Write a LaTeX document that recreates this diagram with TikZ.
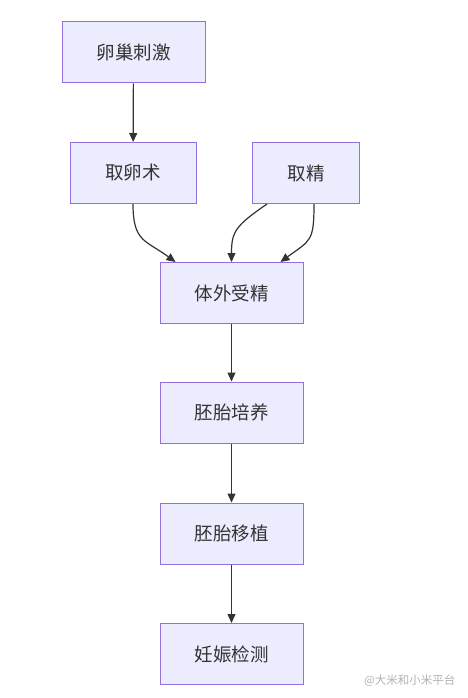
\documentclass[tikz,border=0pt]{standalone}
\usepackage{fontspec}
\newfontfamily\cjk{Noto Sans CJK SC}
\usetikzlibrary{graphs}
\usetikzlibrary{calc}
\usetikzlibrary{arrows.meta}
\definecolor{boxfill}{HTML}{ECECFF}
\definecolor{boxline}{HTML}{9370DB}
\definecolor{edgeline}{HTML}{333333}
\tikzset{
  step box/.style= {draw=boxline, fill=boxfill, line width=1pt, text=edgeline,
    minimum height=61pt, inner sep=0pt, font=\cjk\fontsize{18.5}{22}\selectfont},
  wide box/.style= {step box, minimum width=143pt},
  flow/.style= {draw=edgeline, line width=1.2pt, -{Triangle[length=9pt,width=8pt]}},
}

\begin{document}
\begin{tikzpicture}[x=1pt, y=-1pt]
  \useasboundingbox (0,0) rectangle (467,698);
  \node [wide box] (stim) at (133.5,52.5) {卵巢刺激} ;
  \node [step box, minimum width=126pt] (egg) at (133,173) {取卵术} ;
  \node [step box, minimum width=107pt] (sperm) at (306,173) {取精} ;
  \node [wide box] (ivf) at (231.5,293) {体外受精} ;
  \node [wide box] (culture) at (231.5,412.5) {胚胎培养} ;
  \node [wide box] (transfer) at (231.5,533.5) {胚胎移植} ;
  \node [wide box] (test) at (231.5,654) {妊娠检测} ;

  \graph [edges=flow] {
    (stim) -> (egg) ;
    (ivf) -> (culture) -> (transfer) -> (test) ;
  } ;

  \draw [flow] (egg.south) .. controls +(0,38) and +(-30,-22) .. ([xshift=-56pt]ivf.north) ;
  \draw [flow] ([xshift=-39pt]sperm.south) .. controls +(-32,22) and +(0,-30) .. (ivf.north) ;
  \draw [flow] ([xshift=8pt]sperm.south) .. controls +(0,38) and +(30,-22) .. ([xshift=49pt]ivf.north) ;

  \node [text=gray!60, font=\cjk\fontsize{11.5}{13}\selectfont, anchor=east] (mark) at (459,681) {@大米和小米平台} ;
\end{tikzpicture}
\end{document}
